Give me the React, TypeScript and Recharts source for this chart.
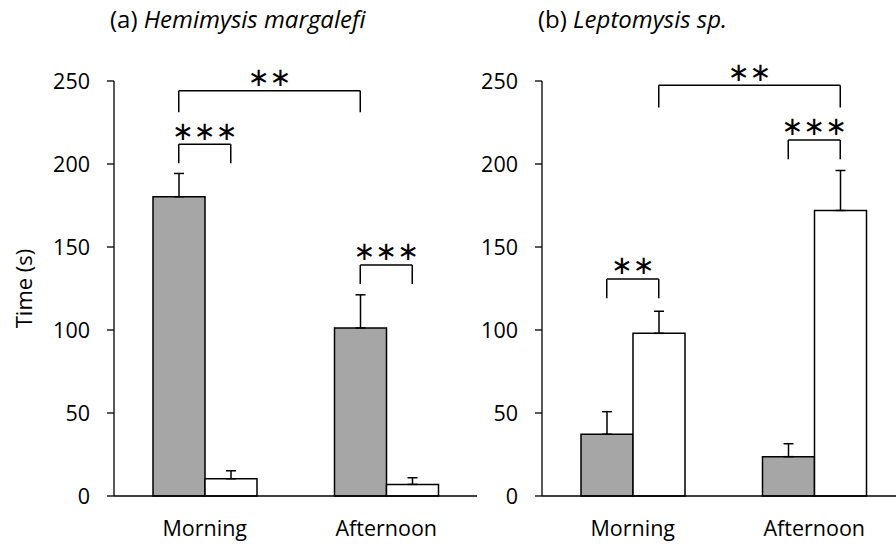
import React from "react";
import {
  BarChart,
  Bar,
  XAxis,
  YAxis,
  ErrorBar,
  ReferenceLine,
  ReferenceDot,
} from "recharts";

const categories = ["Morning", "Afternoon"];
const yTicks = [0, 50, 100, 150, 200, 250];

// (a) Hemimysis margalefi
const leftGray = [180.3, 101.2];
const leftGrayErr = [14, 20];
const leftWhite = [10.4, 7];
const leftWhiteErr = [4.8, 4];

// (b) Leptomysis sp.
const rightGray = [37.2, 23.7];
const rightGrayErr = [13.6, 7.8];
const rightWhite = [98, 172];
const rightWhiteErr = [13.3, 24.1];

// brackets: bar = [category index, 0 gray / 1 white]
const leftBrackets = [
  { from: [0, 0], to: [1, 0], top: 244.2, leg: 231.1, stars: "∗∗" },
  { from: [0, 0], to: [0, 1], top: 211.9, leg: 200.4, stars: "∗∗∗" },
  { from: [1, 0], to: [1, 1], top: 139.2, leg: 127.7, stars: "∗∗∗" },
];
const rightBrackets = [
  { from: [0, 1], to: [1, 1], top: 247.4, leg: 234.1, stars: "∗∗" },
  { from: [1, 0], to: [1, 1], top: 214.5, leg: 202.8, stars: "∗∗∗" },
  { from: [0, 0], to: [0, 1], top: 130.7, leg: 119.1, stars: "∗∗" },
];

const FONT = "'Open Sans', sans-serif";
const BAR = 52;
const PLOT_W = 363;
const HALF = BAR / 2 / (PLOT_W / 2);

const build = (g: number[], ge: number[], w: number[], we: number[]) =>
  categories.map((c, i) => ({
    period: c,
    pos: i + 0.5,
    gray: g[i],
    grayErr: [0, ge[i]],
    white: w[i],
    whiteErr: [0, we[i]],
  }));

const barX = (b: number[]) => b[0] + 0.5 + (b[1] === 0 ? -HALF : HALF);

const renderBrackets = (list: any[], id: string) =>
  list.flatMap((br, i) => {
    const x1 = barX(br.from);
    const x2 = barX(br.to);
    const line = { xAxisId: "num", stroke: "#000", strokeWidth: 1.5, ifOverflow: "visible" as const };
    return [
      <ReferenceLine key={`${id}a${i}`} {...line} segment={[{ x: x1, y: br.leg }, { x: x1, y: br.top }]} />,
      <ReferenceLine key={`${id}b${i}`} {...line} segment={[{ x: x1, y: br.top }, { x: x2, y: br.top }]} />,
      <ReferenceLine key={`${id}c${i}`} {...line} segment={[{ x: x2, y: br.top }, { x: x2, y: br.leg }]} />,
      <ReferenceDot
        key={`${id}d${i}`}
        xAxisId="num"
        x={(x1 + x2) / 2}
        y={br.top + 8.3}
        r={0}
        ifOverflow="visible"
        shape={() => <g />}
        label={{
          value: br.stars,
          position: "center",
          fill: "#000",
          fontSize: 26,
          fontFamily: "'DejaVu Sans', sans-serif",
        }}
      />,
    ];
  });

const Panel = ({ data, brackets, yWidth, width, showLabel, id }: any) => (
  <BarChart
    width={width}
    height={548}
    data={data}
    margin={{ top: 81, right: 0, bottom: 22, left: 0 }}
    barGap={0}
    barSize={BAR}
  >
    <XAxis
      dataKey="period"
      height={30}
      tickLine={false}
      tickSize={0}
      tickMargin={25}
      axisLine={{ stroke: "#000", strokeWidth: 1.3 }}
      tick={{ fill: "#000", fontSize: 21.5, fontFamily: FONT }}
    />
    <XAxis
      xAxisId="num"
      dataKey="pos"
      type="number"
      domain={[0, 2]}
      allowDataOverflow
      hide
    />
    <YAxis
      width={yWidth}
      domain={[0, 250]}
      ticks={yTicks}
      tickSize={7}
      tickMargin={17}
      axisLine={{ stroke: "#000", strokeWidth: 1.3 }}
      tickLine={{ stroke: "#000", strokeWidth: 1.3 }}
      tick={{ fill: "#000", fontSize: 21.5, fontFamily: FONT }}
      label={
        showLabel
          ? {
              value: "Time (s)",
              angle: -90,
              position: "insideLeft",
              offset: 24,
              fill: "#000",
              fontSize: 22,
              fontFamily: FONT,
              style: { textAnchor: "middle" },
            }
          : undefined
      }
    />
    <Bar dataKey="gray" fill="#a6a6a6" stroke="#000" strokeWidth={1.5} isAnimationActive={false}>
      <ErrorBar dataKey="grayErr" direction="y" width={5} stroke="#000" strokeWidth={1.5} />
    </Bar>
    <Bar dataKey="white" fill="#fff" stroke="#000" strokeWidth={1.5} isAnimationActive={false}>
      <ErrorBar dataKey="whiteErr" direction="y" width={5} stroke="#000" strokeWidth={1.5} />
    </Bar>
    {renderBrackets(brackets, id)}
  </BarChart>
);

const titleStyle: React.CSSProperties = {
  position: "absolute",
  top: 7,
  fontFamily: FONT,
  fontSize: 24,
  lineHeight: "24px",
  color: "#000",
  whiteSpace: "nowrap",
};

export default function App() {
  const leftData = build(leftGray, leftGrayErr, leftWhite, leftWhiteErr);
  const rightData = build(rightGray, rightGrayErr, rightWhite, rightWhiteErr);
  return (
    <div
      style={{
        position: "fixed",
        left: 0,
        top: 0,
        width: 896,
        height: 548,
        overflow: "hidden",
        background: "#fff",
      }}
    >
      <div style={{ position: "absolute", left: 0, top: 0 }}>
        <Panel id="L" data={leftData} brackets={leftBrackets} yWidth={114} width={477} showLabel />
      </div>
      <div style={{ position: "absolute", left: 480, top: 0 }}>
        <Panel id="R" data={rightData} brackets={rightBrackets} yWidth={62} width={425} />
      </div>
      <div style={{ ...titleStyle, left: 110 }}>
        (a) <i>Hemimysis margalefi</i>
      </div>
      <div style={{ ...titleStyle, left: 538 }}>
        (b) <i>Leptomysis sp.</i>
      </div>
    </div>
  );
}
